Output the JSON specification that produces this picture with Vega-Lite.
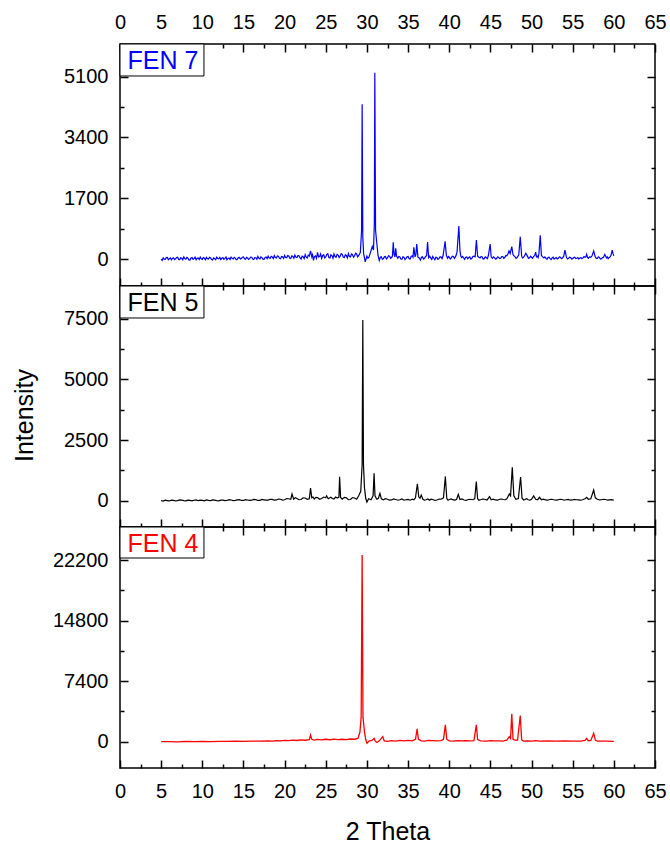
{
"$schema": "https://vega.github.io/schema/vega-lite/v6.json",
"background": "white",
"padding": {"left": 11, "top": 7, "right": 5, "bottom": 5},
"autosize": {"type": "pad"},
"bounds": "flush",
"spacing": 0,
"config": {
  "view": {"stroke": "black", "strokeWidth": 1.5},
  "axis": {"domain": false, "grid": false, "tickColor": "black", "tickWidth": 1.5, "labelFont": "Liberation Sans", "labelFontSize": 20, "labelColor": "black", "labelPadding": 20, "labelFlush": false, "labelOverlap": false, "labelBound": false, "titleFont": "Liberation Sans", "titleFontSize": 25, "titleFontWeight": "normal", "titleColor": "black"},
  "text": {"font": "Liberation Sans"}
},
"datasets": {
  "fen7": [
{"x":5,"y":0},{"x":5.125,"y":-35},{"x":5.25,"y":30},{"x":5.375,"y":-5},{"x":5.5,"y":-10},{"x":5.625,"y":40},{"x":5.75,"y":45},{"x":5.875,"y":-20},{"x":6,"y":10},{"x":6.125,"y":30},{"x":6.25,"y":-25},{"x":6.375,"y":15},{"x":6.5,"y":35},{"x":6.625,"y":-15},{"x":6.75,"y":5},{"x":6.875,"y":40},{"x":7,"y":50},{"x":7.125,"y":-10},{"x":7.25,"y":-15},{"x":7.375,"y":35},{"x":7.5,"y":20},{"x":7.625,"y":-20},{"x":7.75,"y":60},{"x":7.875,"y":10},{"x":8,"y":-5},{"x":8.125,"y":45},{"x":8.25,"y":25},{"x":8.375,"y":-25},{"x":8.5,"y":-30},{"x":8.625,"y":30},{"x":8.75,"y":40},{"x":8.875,"y":-10},{"x":9,"y":15},{"x":9.125,"y":50},{"x":9.25,"y":-20},{"x":9.375,"y":20},{"x":9.5,"y":30},{"x":9.625,"y":-15},{"x":9.75,"y":55},{"x":9.875,"y":5},{"x":10,"y":-10},{"x":10.125,"y":40},{"x":10.25,"y":20},{"x":10.375,"y":-20},{"x":10.5,"y":45},{"x":10.625,"y":10},{"x":10.75,"y":0},{"x":10.875,"y":50},{"x":11,"y":35},{"x":11.125,"y":-15},{"x":11.25,"y":-25},{"x":11.375,"y":30},{"x":11.5,"y":10},{"x":11.625,"y":-20},{"x":11.75,"y":50},{"x":11.875,"y":15},{"x":12,"y":5},{"x":12.125,"y":45},{"x":12.25,"y":-15},{"x":12.375,"y":25},{"x":12.5,"y":40},{"x":12.625,"y":-10},{"x":12.75,"y":20},{"x":12.875,"y":55},{"x":13,"y":-20},{"x":13.125,"y":15},{"x":13.25,"y":30},{"x":13.375,"y":-15},{"x":13.5,"y":55},{"x":13.625,"y":20},{"x":13.75,"y":0},{"x":13.875,"y":45},{"x":14,"y":25},{"x":14.125,"y":-20},{"x":14.25,"y":-10},{"x":14.375,"y":40},{"x":14.5,"y":45},{"x":14.625,"y":0},{"x":14.75,"y":15},{"x":14.875,"y":50},{"x":15,"y":60},{"x":15.125,"y":5},{"x":15.25,"y":-5},{"x":15.375,"y":45},{"x":15.5,"y":30},{"x":15.625,"y":-10},{"x":15.75,"y":10},{"x":15.875,"y":55},{"x":16,"y":50},{"x":16.125,"y":0},{"x":16.25,"y":-15},{"x":16.375,"y":40},{"x":16.5,"y":35},{"x":16.625,"y":-5},{"x":16.75,"y":70},{"x":16.875,"y":20},{"x":17,"y":5},{"x":17.125,"y":60},{"x":17.25,"y":40},{"x":17.375,"y":-5},{"x":17.5,"y":-10},{"x":17.625,"y":45},{"x":17.75,"y":55},{"x":17.875,"y":10},{"x":18,"y":80},{"x":18.125,"y":30},{"x":18.25,"y":20},{"x":18.375,"y":75},{"x":18.5,"y":60},{"x":18.625,"y":10},{"x":18.75,"y":95},{"x":18.875,"y":40},{"x":19,"y":30},{"x":19.125,"y":85},{"x":19.25,"y":75},{"x":19.375,"y":20},{"x":19.5,"y":10},{"x":19.625,"y":70},{"x":19.75,"y":60},{"x":19.875,"y":15},{"x":20,"y":100},{"x":20.125,"y":40},{"x":20.25,"y":35},{"x":20.375,"y":95},{"x":20.5,"y":85},{"x":20.625,"y":25},{"x":20.75,"y":20},{"x":20.875,"y":90},{"x":21,"y":70},{"x":21.125,"y":20},{"x":21.25,"y":110},{"x":21.375,"y":50},{"x":21.5,"y":40},{"x":21.625,"y":100},{"x":21.75,"y":90},{"x":21.875,"y":30},{"x":22,"y":0},{"x":22.125,"y":80},{"x":22.25,"y":65},{"x":22.375,"y":10},{"x":22.5,"y":120},{"x":22.625,"y":50},{"x":22.75,"y":30},{"x":22.875,"y":110},{"x":23,"y":80},{"x":23.15,"y":230},{"x":23.3,"y":60},{"x":23.4,"y":120},{"x":23.5,"y":-40},{"x":23.625,"y":70},{"x":23.75,"y":90},{"x":23.875,"y":20},{"x":24,"y":185},{"x":24.125,"y":60},{"x":24.25,"y":70},{"x":24.375,"y":140},{"x":24.5,"y":20},{"x":24.625,"y":100},{"x":24.75,"y":120},{"x":24.875,"y":30},{"x":25,"y":60},{"x":25.125,"y":130},{"x":25.25,"y":150},{"x":25.375,"y":40},{"x":25.5,"y":30},{"x":25.625,"y":120},{"x":25.75,"y":95},{"x":25.875,"y":20},{"x":26,"y":140},{"x":26.125,"y":70},{"x":26.25,"y":50},{"x":26.375,"y":130},{"x":26.5,"y":110},{"x":26.625,"y":40},{"x":26.75,"y":80},{"x":26.875,"y":150},{"x":27,"y":130},{"x":27.125,"y":50},{"x":27.25,"y":40},{"x":27.375,"y":120},{"x":27.5,"y":100},{"x":27.625,"y":30},{"x":27.75,"y":150},{"x":27.875,"y":70},{"x":28,"y":60},{"x":28.125,"y":140},{"x":28.25,"y":120},{"x":28.375,"y":50},{"x":28.5,"y":90},{"x":28.625,"y":160},{"x":28.75,"y":140},{"x":28.875,"y":60},{"x":29,"y":100},{"x":29.2,"y":180},{"x":29.35,"y":800},{"x":29.42,"y":4330},{"x":29.5,"y":600},{"x":29.6,"y":150},{"x":29.8,"y":-80},{"x":30,"y":80},{"x":30.125,"y":20},{"x":30.25,"y":50},{"x":30.45,"y":200},{"x":30.65,"y":350},{"x":30.8,"y":250},{"x":30.9,"y":1000},{"x":30.96,"y":5210},{"x":31.05,"y":800},{"x":31.2,"y":440},{"x":31.35,"y":100},{"x":31.5,"y":-40},{"x":31.625,"y":50},{"x":31.75,"y":60},{"x":31.875,"y":-10},{"x":32,"y":10},{"x":32.125,"y":60},{"x":32.25,"y":70},{"x":32.375,"y":0},{"x":32.5,"y":30},{"x":32.625,"y":90},{"x":32.75,"y":80},{"x":32.875,"y":20},{"x":33,"y":40},{"x":33.1,"y":90},{"x":33.2,"y":466},{"x":33.3,"y":120},{"x":33.4,"y":60},{"x":33.5,"y":300},{"x":33.6,"y":80},{"x":33.75,"y":20},{"x":33.875,"y":70},{"x":34,"y":60},{"x":34.125,"y":0},{"x":34.25,"y":-10},{"x":34.375,"y":60},{"x":34.5,"y":50},{"x":34.625,"y":-15},{"x":34.75,"y":20},{"x":34.875,"y":60},{"x":35,"y":70},{"x":35.125,"y":10},{"x":35.25,"y":0},{"x":35.375,"y":70},{"x":35.5,"y":90},{"x":35.6,"y":50},{"x":35.7,"y":326},{"x":35.85,"y":60},{"x":35.95,"y":120},{"x":36.05,"y":420},{"x":36.2,"y":50},{"x":36.35,"y":30},{"x":36.5,"y":-30},{"x":36.625,"y":50},{"x":36.75,"y":60},{"x":36.875,"y":0},{"x":37,"y":20},{"x":37.125,"y":70},{"x":37.25,"y":90},{"x":37.37,"y":475},{"x":37.5,"y":40},{"x":37.625,"y":80},{"x":37.75,"y":30},{"x":37.875,"y":-10},{"x":38,"y":70},{"x":38.125,"y":20},{"x":38.25,"y":-20},{"x":38.375,"y":50},{"x":38.5,"y":40},{"x":38.625,"y":-10},{"x":38.75,"y":10},{"x":38.875,"y":60},{"x":39,"y":60},{"x":39.125,"y":10},{"x":39.25,"y":90},{"x":39.5,"y":494},{"x":39.65,"y":100},{"x":39.8,"y":20},{"x":39.9,"y":70},{"x":40,"y":50},{"x":40.125,"y":0},{"x":40.25,"y":30},{"x":40.375,"y":80},{"x":40.5,"y":70},{"x":40.625,"y":20},{"x":40.75,"y":60},{"x":40.85,"y":110},{"x":40.95,"y":200},{"x":41.17,"y":923},{"x":41.3,"y":250},{"x":41.4,"y":80},{"x":41.5,"y":40},{"x":41.625,"y":70},{"x":41.75,"y":30},{"x":41.875,"y":-10},{"x":42,"y":50},{"x":42.125,"y":60},{"x":42.25,"y":10},{"x":42.375,"y":40},{"x":42.5,"y":60},{"x":42.625,"y":0},{"x":42.75,"y":20},{"x":42.875,"y":70},{"x":43,"y":80},{"x":43.15,"y":60},{"x":43.3,"y":531},{"x":43.45,"y":80},{"x":43.6,"y":50},{"x":43.75,"y":30},{"x":43.875,"y":70},{"x":44,"y":60},{"x":44.125,"y":0},{"x":44.25,"y":10},{"x":44.375,"y":60},{"x":44.5,"y":40},{"x":44.625,"y":10},{"x":44.75,"y":90},{"x":44.97,"y":420},{"x":45.1,"y":60},{"x":45.25,"y":20},{"x":45.375,"y":60},{"x":45.5,"y":40},{"x":45.625,"y":0},{"x":45.75,"y":10},{"x":45.875,"y":60},{"x":46,"y":50},{"x":46.125,"y":10},{"x":46.25,"y":20},{"x":46.375,"y":70},{"x":46.5,"y":70},{"x":46.625,"y":20},{"x":46.75,"y":40},{"x":46.875,"y":100},{"x":47,"y":90},{"x":47.13,"y":140},{"x":47.26,"y":224},{"x":47.4,"y":150},{"x":47.6,"y":345},{"x":47.75,"y":120},{"x":47.875,"y":90},{"x":48,"y":60},{"x":48.125,"y":20},{"x":48.25,"y":40},{"x":48.35,"y":80},{"x":48.45,"y":120},{"x":48.63,"y":625},{"x":48.8,"y":80},{"x":48.9,"y":30},{"x":49,"y":40},{"x":49.15,"y":90},{"x":49.3,"y":160},{"x":49.5,"y":80},{"x":49.625,"y":20},{"x":49.75,"y":30},{"x":49.875,"y":80},{"x":50,"y":50},{"x":50.125,"y":20},{"x":50.25,"y":70},{"x":50.4,"y":110},{"x":50.5,"y":190},{"x":50.6,"y":60},{"x":50.7,"y":80},{"x":50.8,"y":40},{"x":50.9,"y":150},{"x":51.06,"y":662},{"x":51.2,"y":100},{"x":51.35,"y":60},{"x":51.5,"y":30},{"x":51.625,"y":60},{"x":51.75,"y":20},{"x":51.875,"y":-10},{"x":52,"y":40},{"x":52.125,"y":50},{"x":52.25,"y":10},{"x":52.375,"y":-15},{"x":52.5,"y":30},{"x":52.625,"y":50},{"x":52.75,"y":0},{"x":52.875,"y":20},{"x":53,"y":40},{"x":53.125,"y":0},{"x":53.25,"y":20},{"x":53.375,"y":60},{"x":53.5,"y":50},{"x":53.625,"y":10},{"x":53.75,"y":30},{"x":53.9,"y":70},{"x":54.06,"y":250},{"x":54.25,"y":40},{"x":54.375,"y":0},{"x":54.5,"y":20},{"x":54.625,"y":50},{"x":54.75,"y":40},{"x":54.875,"y":0},{"x":55,"y":10},{"x":55.125,"y":40},{"x":55.25,"y":50},{"x":55.375,"y":10},{"x":55.5,"y":20},{"x":55.625,"y":40},{"x":55.75,"y":0},{"x":55.875,"y":30},{"x":56,"y":40},{"x":56.125,"y":10},{"x":56.25,"y":30},{"x":56.375,"y":70},{"x":56.5,"y":50},{"x":56.6,"y":60},{"x":56.7,"y":130},{"x":56.8,"y":50},{"x":56.9,"y":20},{"x":57.05,"y":60},{"x":57.2,"y":50},{"x":57.35,"y":90},{"x":57.55,"y":224},{"x":57.75,"y":50},{"x":57.875,"y":20},{"x":58,"y":20},{"x":58.125,"y":60},{"x":58.25,"y":40},{"x":58.375,"y":0},{"x":58.5,"y":10},{"x":58.625,"y":40},{"x":58.75,"y":50},{"x":58.9,"y":130},{"x":59.1,"y":30},{"x":59.2,"y":60},{"x":59.3,"y":10},{"x":59.4,"y":40},{"x":59.5,"y":50},{"x":59.65,"y":100},{"x":59.8,"y":250},{"x":59.9,"y":150},{"x":60,"y":90}
  ],
  "fen5": [
{"x":5,"y":0},{"x":5.25,"y":-15},{"x":5.5,"y":20},{"x":5.75,"y":5},{"x":6,"y":-10},{"x":6.25,"y":25},{"x":6.5,"y":15},{"x":6.75,"y":-5},{"x":7,"y":5},{"x":7.25,"y":30},{"x":7.5,"y":25},{"x":7.75,"y":0},{"x":8,"y":-5},{"x":8.25,"y":20},{"x":8.5,"y":10},{"x":8.75,"y":-10},{"x":9,"y":20},{"x":9.25,"y":35},{"x":9.5,"y":0},{"x":9.75,"y":20},{"x":10,"y":15},{"x":10.25,"y":-5},{"x":10.5,"y":30},{"x":10.75,"y":10},{"x":11,"y":5},{"x":11.25,"y":35},{"x":11.5,"y":20},{"x":11.75,"y":0},{"x":12,"y":-5},{"x":12.25,"y":20},{"x":12.5,"y":25},{"x":12.75,"y":5},{"x":13,"y":10},{"x":13.25,"y":40},{"x":13.5,"y":30},{"x":13.75,"y":5},{"x":14,"y":15},{"x":14.25,"y":35},{"x":14.5,"y":40},{"x":14.75,"y":10},{"x":15,"y":10},{"x":15.25,"y":45},{"x":15.5,"y":30},{"x":15.75,"y":15},{"x":16,"y":20},{"x":16.25,"y":50},{"x":16.5,"y":45},{"x":16.75,"y":10},{"x":17,"y":15},{"x":17.25,"y":50},{"x":17.5,"y":35},{"x":17.75,"y":20},{"x":18,"y":25},{"x":18.25,"y":60},{"x":18.5,"y":55},{"x":18.75,"y":20},{"x":19,"y":30},{"x":19.25,"y":70},{"x":19.5,"y":60},{"x":19.75,"y":25},{"x":20,"y":40},{"x":20.25,"y":90},{"x":20.5,"y":80},{"x":20.75,"y":60},{"x":20.9,"y":275},{"x":21.1,"y":60},{"x":21.3,"y":120},{"x":21.5,"y":90},{"x":21.75,"y":40},{"x":22,"y":50},{"x":22.25,"y":120},{"x":22.5,"y":110},{"x":22.75,"y":60},{"x":23,"y":80},{"x":23.15,"y":520},{"x":23.3,"y":120},{"x":23.45,"y":150},{"x":23.6,"y":70},{"x":23.8,"y":140},{"x":24,"y":130},{"x":24.25,"y":60},{"x":24.5,"y":90},{"x":24.75,"y":150},{"x":25,"y":120},{"x":25.1,"y":200},{"x":25.3,"y":80},{"x":25.6,"y":140},{"x":25.8,"y":90},{"x":26,"y":70},{"x":26.2,"y":150},{"x":26.4,"y":110},{"x":26.6,"y":150},{"x":26.68,"y":990},{"x":26.8,"y":130},{"x":27,"y":60},{"x":27.25,"y":140},{"x":27.5,"y":120},{"x":27.75,"y":40},{"x":28,"y":50},{"x":28.25,"y":130},{"x":28.5,"y":110},{"x":28.75,"y":60},{"x":29,"y":200},{"x":29.25,"y":385},{"x":29.42,"y":1500},{"x":29.5,"y":7450},{"x":29.58,"y":1500},{"x":29.7,"y":550},{"x":29.85,"y":100},{"x":30,"y":-60},{"x":30.2,"y":80},{"x":30.5,"y":40},{"x":30.75,"y":200},{"x":30.87,"y":1128},{"x":30.98,"y":200},{"x":31.2,"y":60},{"x":31.4,"y":100},{"x":31.58,"y":300},{"x":31.75,"y":80},{"x":32,"y":40},{"x":32.25,"y":80},{"x":32.5,"y":60},{"x":32.75,"y":20},{"x":33,"y":30},{"x":33.25,"y":70},{"x":33.5,"y":50},{"x":33.75,"y":20},{"x":34,"y":40},{"x":34.25,"y":70},{"x":34.5,"y":20},{"x":34.75,"y":40},{"x":35,"y":50},{"x":35.25,"y":20},{"x":35.5,"y":60},{"x":35.7,"y":40},{"x":35.9,"y":120},{"x":36.13,"y":700},{"x":36.3,"y":150},{"x":36.45,"y":100},{"x":36.6,"y":230},{"x":36.8,"y":60},{"x":37,"y":20},{"x":37.2,"y":40},{"x":37.4,"y":70},{"x":37.6,"y":20},{"x":37.8,"y":60},{"x":38,"y":50},{"x":38.25,"y":10},{"x":38.5,"y":30},{"x":38.75,"y":70},{"x":39,"y":60},{"x":39.3,"y":120},{"x":39.53,"y":1000},{"x":39.7,"y":100},{"x":39.85,"y":20},{"x":40,"y":50},{"x":40.25,"y":70},{"x":40.5,"y":30},{"x":40.7,"y":20},{"x":40.9,"y":60},{"x":41.1,"y":260},{"x":41.3,"y":50},{"x":41.55,"y":70},{"x":41.8,"y":30},{"x":42.05,"y":10},{"x":42.3,"y":50},{"x":42.55,"y":60},{"x":42.8,"y":40},{"x":43.1,"y":80},{"x":43.29,"y":785},{"x":43.45,"y":80},{"x":43.6,"y":20},{"x":43.8,"y":40},{"x":44.05,"y":70},{"x":44.3,"y":60},{"x":44.6,"y":30},{"x":44.9,"y":165},{"x":45.1,"y":40},{"x":45.35,"y":60},{"x":45.6,"y":30},{"x":45.85,"y":20},{"x":46.1,"y":60},{"x":46.35,"y":70},{"x":46.6,"y":50},{"x":46.8,"y":40},{"x":47,"y":80},{"x":47.3,"y":275},{"x":47.45,"y":200},{"x":47.66,"y":1375},{"x":47.85,"y":200},{"x":48.1,"y":60},{"x":48.4,"y":90},{"x":48.67,"y":975},{"x":48.85,"y":100},{"x":49.05,"y":30},{"x":49.2,"y":50},{"x":49.4,"y":80},{"x":49.6,"y":40},{"x":49.8,"y":20},{"x":50,"y":60},{"x":50.26,"y":200},{"x":50.5,"y":60},{"x":50.75,"y":40},{"x":50.97,"y":140},{"x":51.2,"y":40},{"x":51.45,"y":60},{"x":51.7,"y":30},{"x":51.95,"y":20},{"x":52.2,"y":50},{"x":52.45,"y":60},{"x":52.7,"y":40},{"x":52.95,"y":20},{"x":53.2,"y":30},{"x":53.45,"y":60},{"x":53.7,"y":50},{"x":53.95,"y":20},{"x":54.2,"y":40},{"x":54.45,"y":50},{"x":54.7,"y":20},{"x":54.95,"y":30},{"x":55.2,"y":50},{"x":55.45,"y":40},{"x":55.7,"y":30},{"x":55.95,"y":20},{"x":56.2,"y":40},{"x":56.5,"y":80},{"x":56.7,"y":140},{"x":56.9,"y":60},{"x":57.2,"y":80},{"x":57.55,"y":440},{"x":57.75,"y":120},{"x":58,"y":60},{"x":58.25,"y":30},{"x":58.5,"y":40},{"x":58.75,"y":60},{"x":59,"y":50},{"x":59.25,"y":20},{"x":59.5,"y":30},{"x":59.75,"y":40},{"x":60,"y":20}
  ],
  "fen4": [
{"x":5,"y":0},{"x":6,"y":20},{"x":7,"y":-10},{"x":8,"y":30},{"x":9,"y":10},{"x":10,"y":40},{"x":11,"y":20},{"x":12,"y":50},{"x":13,"y":30},{"x":14,"y":60},{"x":15,"y":40},{"x":16,"y":80},{"x":17,"y":60},{"x":18,"y":100},{"x":18.5,"y":70},{"x":19,"y":130},{"x":19.5,"y":100},{"x":20,"y":160},{"x":20.5,"y":120},{"x":21,"y":200},{"x":21.5,"y":150},{"x":22,"y":230},{"x":22.5,"y":180},{"x":23,"y":250},{"x":23.15,"y":820},{"x":23.3,"y":300},{"x":23.6,"y":200},{"x":24,"y":280},{"x":24.5,"y":230},{"x":25,"y":300},{"x":25.5,"y":240},{"x":26,"y":320},{"x":26.5,"y":260},{"x":27,"y":300},{"x":27.5,"y":250},{"x":28,"y":330},{"x":28.5,"y":300},{"x":28.9,"y":400},{"x":29.15,"y":1150},{"x":29.3,"y":3000},{"x":29.42,"y":22800},{"x":29.52,"y":3000},{"x":29.7,"y":1230},{"x":29.85,"y":300},{"x":30,"y":-200},{"x":30.3,"y":100},{"x":30.6,"y":150},{"x":30.87,"y":410},{"x":31,"y":100},{"x":31.2,"y":-100},{"x":31.5,"y":100},{"x":31.93,"y":620},{"x":32.1,"y":100},{"x":32.5,"y":50},{"x":33,"y":120},{"x":33.5,"y":80},{"x":34,"y":150},{"x":34.5,"y":100},{"x":35,"y":150},{"x":35.5,"y":100},{"x":35.9,"y":300},{"x":36.1,"y":1560},{"x":36.25,"y":300},{"x":36.6,"y":100},{"x":37,"y":80},{"x":37.5,"y":150},{"x":38,"y":120},{"x":38.5,"y":100},{"x":39,"y":130},{"x":39.3,"y":300},{"x":39.53,"y":2050},{"x":39.7,"y":300},{"x":40,"y":100},{"x":40.5,"y":80},{"x":41,"y":120},{"x":41.5,"y":100},{"x":42,"y":130},{"x":42.5,"y":90},{"x":43,"y":120},{"x":43.29,"y":2050},{"x":43.45,"y":250},{"x":43.8,"y":100},{"x":44.5,"y":80},{"x":45,"y":120},{"x":45.5,"y":90},{"x":46,"y":110},{"x":46.5,"y":80},{"x":47,"y":200},{"x":47.3,"y":620},{"x":47.45,"y":400},{"x":47.6,"y":3400},{"x":47.75,"y":300},{"x":48,"y":200},{"x":48.3,"y":200},{"x":48.63,"y":3200},{"x":48.8,"y":250},{"x":49,"y":80},{"x":49.5,"y":100},{"x":50,"y":60},{"x":50.5,"y":120},{"x":51,"y":80},{"x":52,"y":90},{"x":53,"y":70},{"x":54,"y":100},{"x":55,"y":60},{"x":56,"y":80},{"x":56.5,"y":150},{"x":56.7,"y":410},{"x":56.9,"y":100},{"x":57.2,"y":150},{"x":57.55,"y":1030},{"x":57.75,"y":200},{"x":58,"y":80},{"x":59,"y":60},{"x":60,"y":50}
  ]
},
"vconcat": [
{
  "width": 535, "height": 242,
  "layer": [
    {"data": {"name": "fen7"}, "mark": {"type": "line", "color": "#0000FF", "strokeWidth": 1.2, "clip": true},
     "encoding": {
       "x": {"field": "x", "type": "quantitative", "scale": {"domain": [0, 65], "nice": false, "zero": false},
             "axis": {"orient": "bottom", "title": null, "labels": false, "values": [0,2.5,5,7.5,10,12.5,15,17.5,20,22.5,25,27.5,30,32.5,35,37.5,40,42.5,45,47.5,50,52.5,55,57.5,60,62.5,65], "tickSize": {"condition": {"test": "datum.value % 5 !== 0", "value": -4}, "value": -8}}},
       "y": {"field": "y", "type": "quantitative", "scale": {"domain": [-755, 6015], "nice": false, "zero": false},
             "axis": {"orient": "left", "title": null, "labelFontSize": 20, "values": [0,850,1700,2550,3400,4250,5100], "labelExpr": "datum.value % 1700 === 0 ? format(datum.value, 'd') : ''", "tickSize": {"condition": {"test": "datum.value % 1700 !== 0", "value": -4}, "value": -8}}}
     }},
    {"data": {"values": [{"label": "FEN 7"}]}, "mark": {"type": "rect", "fill": "white", "stroke": "black", "strokeWidth": 1},
     "encoding": {
       "x": {"datum": 0, "type": "quantitative", "scale": {"domain": [0, 65], "nice": false, "zero": false},
             "axis": {"orient": "top", "title": null, "labelFontSize": 20, "values": [0,2.5,5,7.5,10,12.5,15,17.5,20,22.5,25,27.5,30,32.5,35,37.5,40,42.5,45,47.5,50,52.5,55,57.5,60,62.5,65], "labelExpr": "datum.value % 5 === 0 ? format(datum.value, 'd') : ''", "tickSize": {"condition": {"test": "datum.value % 5 !== 0", "value": -4}, "value": -8}}},
       "x2": {"datum": 10.2},
       "y": {"datum": 5120, "type": "quantitative", "scale": {"domain": [-755, 6015], "nice": false, "zero": false},
             "axis": {"orient": "right", "title": null, "labels": false, "values": [0,850,1700,2550,3400,4250,5100], "tickSize": {"condition": {"test": "datum.value % 1700 !== 0", "value": -4}, "value": -8}}},
       "y2": {"datum": 6015}
     }},
    {"data": {"values": [{"label": "FEN 7"}]}, "mark": {"type": "text", "color": "#0000FF", "fontSize": 25, "align": "center", "baseline": "alphabetic"},
     "encoding": {
       "x": {"datum": 5.22, "type": "quantitative", "scale": {"domain": [0, 65], "nice": false, "zero": false}, "axis": null},
       "y": {"datum": 5307, "type": "quantitative", "scale": {"domain": [-755, 6015], "nice": false, "zero": false}, "axis": null},
       "text": {"field": "label"}
     }}
  ],
  "resolve": {"axis": {"x": "independent", "y": "independent"}}
},
{
  "width": 535, "height": 241,
  "layer": [
    {"data": {"name": "fen5"}, "mark": {"type": "line", "color": "black", "strokeWidth": 1.2, "clip": true},
     "encoding": {
       "x": {"field": "x", "type": "quantitative", "scale": {"domain": [0, 65], "nice": false, "zero": false},
             "axis": {"orient": "bottom", "title": null, "labels": false, "values": [0,2.5,5,7.5,10,12.5,15,17.5,20,22.5,25,27.5,30,32.5,35,37.5,40,42.5,45,47.5,50,52.5,55,57.5,60,62.5,65], "tickSize": {"condition": {"test": "datum.value % 5 !== 0", "value": -4}, "value": -8}}},
       "y": {"field": "y", "type": "quantitative", "scale": {"domain": [-1084, 8847], "nice": false, "zero": false},
             "axis": {"orient": "left", "title": "Intensity", "titleX": -96, "titleY": 129, "titleAngle": -90, "titleAlign": "center", "titleBaseline": "middle", "labelFontSize": 20, "values": [0,1250,2500,3750,5000,6250,7500], "labelExpr": "datum.value % 2500 === 0 ? format(datum.value, 'd') : ''", "tickSize": {"condition": {"test": "datum.value % 2500 !== 0", "value": -4}, "value": -8}}}
     }},
    {"data": {"values": [{"label": "FEN 5"}]}, "mark": {"type": "rect", "fill": "white", "stroke": "black", "strokeWidth": 1},
     "encoding": {
       "x": {"datum": 0, "type": "quantitative", "scale": {"domain": [0, 65], "nice": false, "zero": false},
             "axis": {"orient": "top", "title": null, "labels": false, "values": [0,2.5,5,7.5,10,12.5,15,17.5,20,22.5,25,27.5,30,32.5,35,37.5,40,42.5,45,47.5,50,52.5,55,57.5,60,62.5,65], "tickSize": {"condition": {"test": "datum.value % 5 !== 0", "value": -4}, "value": -8}}},
       "x2": {"datum": 10.2},
       "y": {"datum": 7529, "type": "quantitative", "scale": {"domain": [-1084, 8847], "nice": false, "zero": false},
             "axis": {"orient": "right", "title": null, "labels": false, "values": [0,1250,2500,3750,5000,6250,7500], "tickSize": {"condition": {"test": "datum.value % 2500 !== 0", "value": -4}, "value": -8}}},
       "y2": {"datum": 8847}
     }},
    {"data": {"values": [{"label": "FEN 5"}]}, "mark": {"type": "text", "color": "black", "fontSize": 25, "align": "center", "baseline": "alphabetic"},
     "encoding": {
       "x": {"datum": 5.22, "type": "quantitative", "scale": {"domain": [0, 65], "nice": false, "zero": false}, "axis": null},
       "y": {"datum": 7805, "type": "quantitative", "scale": {"domain": [-1084, 8847], "nice": false, "zero": false}, "axis": null},
       "text": {"field": "label"}
     }}
  ],
  "resolve": {"axis": {"x": "independent", "y": "independent"}}
},
{
  "width": 535, "height": 241,
  "layer": [
    {"data": {"name": "fen4"}, "mark": {"type": "line", "color": "#FF0000", "strokeWidth": 1.3, "clip": true},
     "encoding": {
       "x": {"field": "x", "type": "quantitative", "scale": {"domain": [0, 65], "nice": false, "zero": false},
             "axis": {"orient": "bottom", "title": "2 Theta", "titlePadding": 14, "labelFontSize": 20, "labelPadding": 21, "values": [0,2.5,5,7.5,10,12.5,15,17.5,20,22.5,25,27.5,30,32.5,35,37.5,40,42.5,45,47.5,50,52.5,55,57.5,60,62.5,65], "labelExpr": "datum.value % 5 === 0 ? format(datum.value, 'd') : ''", "tickSize": {"condition": {"test": "datum.value % 5 !== 0", "value": -4}, "value": -8}}},
       "y": {"field": "y", "type": "quantitative", "scale": {"domain": [-3213, 26232], "nice": false, "zero": false},
             "axis": {"orient": "left", "title": null, "labelFontSize": 20, "values": [0,3700,7400,11100,14800,18500,22200], "labelExpr": "datum.value % 7400 === 0 ? format(datum.value, 'd') : ''", "tickSize": {"condition": {"test": "datum.value % 7400 !== 0", "value": -4}, "value": -8}}}
     }},
    {"data": {"values": [{"label": "FEN 4"}]}, "mark": {"type": "rect", "fill": "white", "stroke": "black", "strokeWidth": 1},
     "encoding": {
       "x": {"datum": 0, "type": "quantitative", "scale": {"domain": [0, 65], "nice": false, "zero": false},
             "axis": {"orient": "top", "title": null, "labels": false, "values": [0,2.5,5,7.5,10,12.5,15,17.5,20,22.5,25,27.5,30,32.5,35,37.5,40,42.5,45,47.5,50,52.5,55,57.5,60,62.5,65], "tickSize": {"condition": {"test": "datum.value % 5 !== 0", "value": -4}, "value": -8}}},
       "x2": {"datum": 10.2},
       "y": {"datum": 22444, "type": "quantitative", "scale": {"domain": [-3213, 26232], "nice": false, "zero": false},
             "axis": {"orient": "right", "title": null, "labels": false, "values": [0,3700,7400,11100,14800,18500,22200], "tickSize": {"condition": {"test": "datum.value % 7400 !== 0", "value": -4}, "value": -8}}},
       "y2": {"datum": 26232}
     }},
    {"data": {"values": [{"label": "FEN 4"}]}, "mark": {"type": "text", "color": "#FF0000", "fontSize": 25, "align": "center", "baseline": "alphabetic"},
     "encoding": {
       "x": {"datum": 5.22, "type": "quantitative", "scale": {"domain": [0, 65], "nice": false, "zero": false}, "axis": null},
       "y": {"datum": 23140, "type": "quantitative", "scale": {"domain": [-3213, 26232], "nice": false, "zero": false}, "axis": null},
       "text": {"field": "label"}
     }}
  ],
  "resolve": {"axis": {"x": "independent", "y": "independent"}}
}
]
}
